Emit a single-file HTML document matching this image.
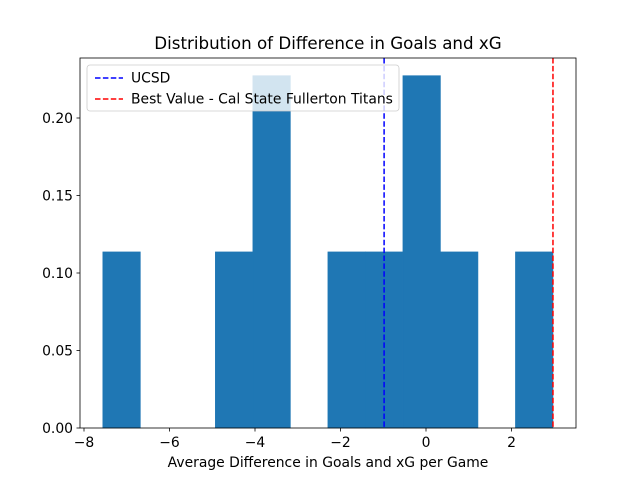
<!DOCTYPE html>
<html><head><meta charset="utf-8"><style>
body{margin:0;background:#fff;}
svg{display:block;font-family:"DejaVu Sans","Liberation Sans",sans-serif;}
</style></head><body>
<svg id="chart" width="640" height="480" xmlns="http://www.w3.org/2000/svg">
<rect width="640" height="480" fill="#fff"/>
<text x="328" y="49" font-size="16.7" text-anchor="middle">Distribution of Difference in Goals and xG</text>
<g id="bars"></g>
<g id="vlines"></g>
<rect x="80" y="58" width="496" height="370" fill="none" stroke="#000" stroke-width="0.8"/>
<g id="xticks"></g><g id="yticks"></g>
<text x="328" y="467" font-size="13.9" text-anchor="middle">Average Difference in Goals and xG per Game</text>
<g>
<rect x="87" y="65" width="312" height="46" rx="3" fill="rgba(255,255,255,0.8)" stroke="#ccc" stroke-width="0.8"/>
<line x1="95" y1="78" x2="123" y2="78" stroke="#0000ff" stroke-width="1.5" stroke-dasharray="5.5,2.4"/>
<text x="131" y="82.5" font-size="13.9">UCSD</text>
<line x1="95" y1="99" x2="123" y2="99" stroke="#ff0000" stroke-width="1.5" stroke-dasharray="5.5,2.4"/>
<text x="131" y="103.5" font-size="13.9">Best Value - Cal State Fullerton Titans</text>
</g>
</svg>
<script>
const binStart = -7.56;
const binWidth = 0.8775;
const densities = [0.1136,0,0,0.1136,0.2273,0,0.1136,0.1136,0.2273,0.1136,0,0.1136];
const xTicks = [-8,-6,-4,-2,0,2];
const yTicks = [0,0.05,0.10,0.15,0.20];
const yTickLabels = ["0.00","0.05","0.10","0.15","0.20"];
const ucsdValue = -0.98;
const bestValue = 2.97;
const NS="http://www.w3.org/2000/svg";
const xs=v=>426+v*42.75;
const ys=v=>428-v*1550;
function mk(t,a,p){const e=document.createElementNS(NS,t);for(const k in a)e.setAttribute(k,a[k]);p.appendChild(e);return e;}
const bars=document.getElementById('bars');
densities.forEach((d,i)=>{if(d<=0)return;
 const x0=xs(binStart+i*binWidth),x1=xs(binStart+(i+1)*binWidth);
 const r=mk('rect',{x:x0,y:ys(d),width:x1-x0,height:ys(0)-ys(d),fill:'#1f77b4',stroke:'#1f77b4','stroke-width':0.6},bars);
 
 });
const vl=document.getElementById('vlines');
const l1=mk('line',{x1:xs(ucsdValue),x2:xs(ucsdValue),y1:58,y2:428,stroke:'#0000ff','stroke-width':1.5,'stroke-dasharray':'5.5,2.4'},vl);


const l2=mk('line',{x1:xs(bestValue),x2:xs(bestValue),y1:58,y2:428,stroke:'#ff0000','stroke-width':1.5,'stroke-dasharray':'5.5,2.4'},vl);


const xt=document.getElementById('xticks');
xTicks.forEach(v=>{const x=xs(v);mk('line',{x1:x,x2:x,y1:428,y2:431.5,stroke:'#000','stroke-width':0.8},xt);
 const t=mk('text',{x:x,y:447,'font-size':13.9,'text-anchor':'middle'},xt);t.textContent=(v<0?'\u2212'+(-v):v);
 
 });
const yt=document.getElementById('yticks');
yTicks.forEach((v,i)=>{const y=ys(v);mk('line',{x1:76.5,x2:80,y1:y,y2:y,stroke:'#000','stroke-width':0.8},yt);
 const t=mk('text',{x:73,y:y+5,'font-size':13.9,'text-anchor':'end'},yt);t.textContent=yTickLabels[i];
 
 });
</script>
</body></html>
